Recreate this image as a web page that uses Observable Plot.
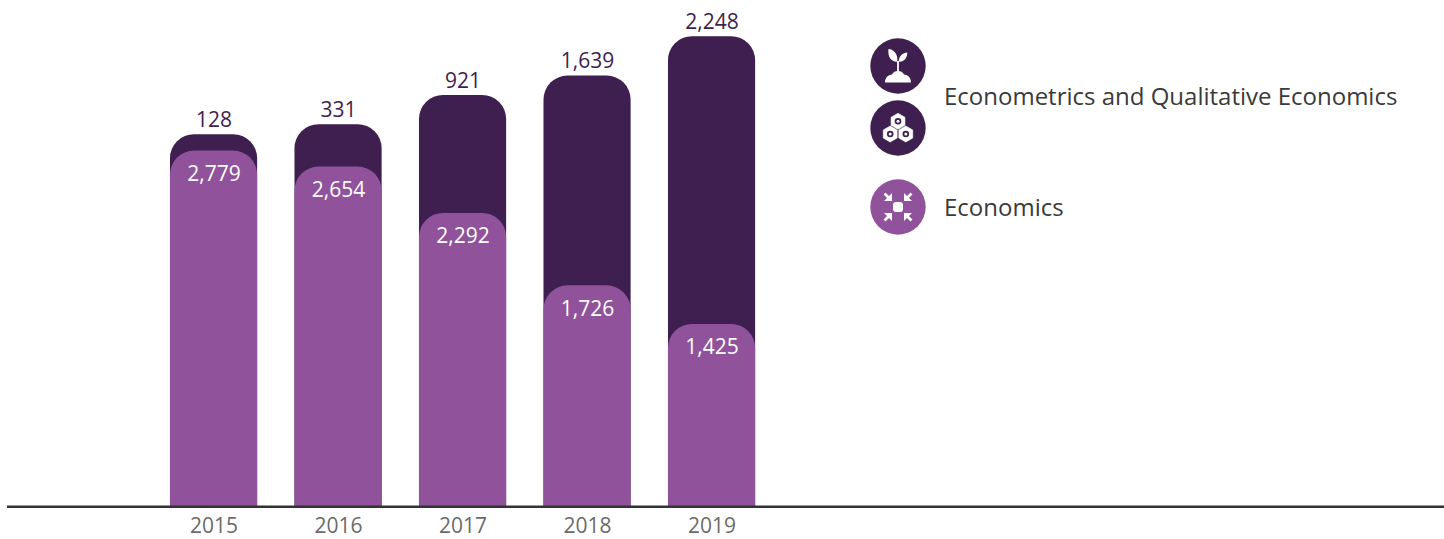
<!DOCTYPE html>
<html>
<head>
<meta charset="utf-8">
<script src="https://cdn.jsdelivr.net/npm/d3@7"></script>
<script src="https://cdn.jsdelivr.net/npm/@observablehq/plot@0.6"></script>
<style>
html,body{margin:0;padding:0;background:#fff;}
#wrap{position:relative;width:1444px;height:539px;overflow:hidden;font-family:"Open Sans",sans-serif;}
#wrap svg.plot{display:block;position:absolute;left:0;top:0;}
.lg{position:absolute;}
.lt{position:absolute;left:944px;font-size:24px;color:#3a3a3a;line-height:32px;white-space:nowrap;}
</style>
</head>
<body>
<div id="wrap"></div>
<script>
const years = ["2015","2016","2017","2018","2019"];
const economics = [2779,2654,2292,1726,1425];
const econometrics = [128,331,921,1639,2248];
const seriesNames = ["Econometrics and Qualitative Economics","Economics"];
const colors = {dark:"#3f1f4f", light:"#8f529b"};

const rows = years.map((year,i)=>({year, light:economics[i], dark:econometrics[i], total:economics[i]+econometrics[i]}));
const fmt = d3.format(",");
const R = 24;

const chart = Plot.plot({
  width:1444, height:539,
  marginLeft:7, marginRight:0, marginTop:0, marginBottom:33,
  style:{fontFamily:'"Open Sans",sans-serif', background:"transparent", overflow:"visible"},
  x:{domain:years, range:[151.3,773.8], paddingInner:0.3, paddingOuter:0.15, round:false, label:null},
  y:{domain:[0,3800], range:[506.3,19.9], axis:null, label:null},
  marks:[
    // rounded tops only: the bars run past the baseline and are clipped to the frame
    Plot.barY(rows,{x:"year",y1:-500,y2:"total",fill:colors.dark,rx:R,ry:R,clip:"frame"}),
    Plot.barY(rows,{x:"year",y1:-500,y2:"light",fill:colors.light,rx:R,ry:R,clip:"frame"}),
    Plot.text(rows,{x:"year",y:"total",text:d=>fmt(d.dark),dy:-14.5,fontSize:21,fill:colors.dark}),
    Plot.text(rows,{x:"year",y:"light",text:d=>fmt(d.light),dy:23,fontSize:21,fill:"#fff"}),
    Plot.ruleY([0],{stroke:"#333",strokeWidth:2.5}),
    Plot.axisX({tickSize:0,tickPadding:12,fontSize:21,color:"#6b6b6b",label:null})
  ]
});
const wrap = document.getElementById("wrap");
wrap.appendChild(chart);

const sprout = `<path fill="#fff" d="M-13 16.5c0-5 3-7.500 7-8 1-2.500 3.500-3.500 6-3.500s5 1 6 3.500c4 .5 7 3 7 8z"/>
<path fill="none" stroke="#fff" stroke-width="1.8" d="M0 6V-5"/>
<path fill="#fff" d="M-.8-4.300C-7-4.500-10.500-9-9.500-17c5 .5 10 5 8.700 12.700zM.8-4.300c0-5 3-8.700 8.500-9.200 0 6-3.500 9.500-8.500 9.200z"/>`;
function hex(cx,cy){
  const r=8, pts=d3.range(6).map(i=>{const a=Math.PI/3*i+Math.PI/6;return [cx+r*Math.cos(a),cy+r*Math.sin(a)].join(",")}).join(" ");
  return `<polygon points="${pts}" fill="#fff" stroke="#fff" stroke-width="0.6" stroke-linejoin="round"/><circle cx="${cx}" cy="${cy}" r="3.300" fill="${colors.dark}"/><circle cx="${cx}" cy="${cy}" r="1.500" fill="#fff"/>`;
}
const hexes = hex(0,-6.7)+hex(-7.8,6)+hex(7.8,6);
function arrow(sx,sy){
  return `<g transform="scale(${sx},${sy})"><path fill="none" stroke="#fff" stroke-width="2.6" d="M13.500 13.500L8 8"/><path fill="#fff" d="M6 6h8l-8 8z"/></g>`;
}
const arrows = `<rect x="-5" y="-5" width="10" height="10" rx="3" fill="#fff"/>`+arrow(1,1)+arrow(-1,1)+arrow(1,-1)+arrow(-1,-1);
function icon(top,fill,inner){
  const d=document.createElement("div");
  d.className="lg";
  d.style.cssText=`left:870px;top:${top}px;width:56px;height:56px`;
  d.innerHTML=`<svg width="56" height="56" viewBox="-28 -28 56 56"><circle r="27.7" fill="${fill}"/>${inner}</svg>`;
  wrap.appendChild(d);
}
icon(38,colors.dark,sprout);
icon(100,colors.dark,hexes);
icon(179,colors.light,arrows);
[[seriesNames[0],79.5],[seriesNames[1],191]].forEach(([t,top])=>{
  const d=document.createElement("div");d.className="lt";d.style.top=top+"px";d.textContent=t;wrap.appendChild(d);
});
</script>
</body>
</html>
